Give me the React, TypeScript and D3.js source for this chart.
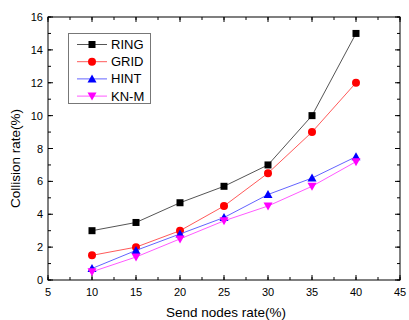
import React from 'react';
import * as d3 from 'd3';

// send nodes rate (%)
const rates = [10, 15, 20, 25, 30, 35, 40];
const ring = [3.0, 3.5, 4.7, 5.7, 7.0, 10.0, 15.0];
const grid = [1.5, 2.0, 3.0, 4.5, 6.5, 9.0, 12.0];
const hint = [0.7, 1.8, 2.8, 3.8, 5.2, 6.2, 7.5];
const knm = [0.5, 1.4, 2.5, 3.6, 4.5, 5.7, 7.2];

const xTicks = [5, 10, 15, 20, 25, 30, 35, 40, 45];
const yTicks = [0, 2, 4, 6, 8, 10, 12, 14, 16];

const series = [
  { name: 'RING', values: ring, color: '#000000', line: '#555555', shape: 'square' },
  { name: 'GRID', values: grid, color: '#ff0000', line: '#ff5a5a', shape: 'circle' },
  { name: 'HINT', values: hint, color: '#0000ff', line: '#6464ff', shape: 'up' },
  { name: 'KN-M', values: knm, color: '#ff00ff', line: '#ff5aff', shape: 'down' },
];

const W = 409;
const H = 320;
const left = 48, right = 400, top = 17, bottom = 280;
const font = '"Liberation Sans", Arial, sans-serif';

function Marker({ shape, x, y, color }: { shape: string; x: number; y: number; color: string }) {
  if (shape === 'square') return <rect x={x - 3.5} y={y - 3.5} width={7} height={7} fill={color} />;
  if (shape === 'circle') return <circle cx={x} cy={y} r={4} fill={color} />;
  if (shape === 'up')
    return <path d={`M${x},${y - 4.5}L${x + 4.5},${y + 3.5}L${x - 4.5},${y + 3.5}Z`} fill={color} />;
  return <path d={`M${x},${y + 4.5}L${x + 4.5},${y - 3.5}L${x - 4.5},${y - 3.5}Z`} fill={color} />;
}

export default function App() {
  const x = d3.scaleLinear().domain([5, 45]).range([left, right]);
  const y = d3.scaleLinear().domain([0, 16]).range([bottom, top]);
  const line = d3.line<number>().x((_, i) => x(rates[i])).y((d) => y(d));

  const xMinor = d3.range(5, 45.01, 2.5);
  const yMinor = d3.range(0, 16.01, 1);

  return (
    <svg width={W} height={H} style={{ position: 'absolute', left: 0, top: 0, background: '#fff' }}>
      {/* minor ticks */}
      {xMinor.map((t) => (
        <g key={'xm' + t} stroke="#000" strokeWidth={1}>
          <line x1={x(t)} x2={x(t)} y1={bottom} y2={bottom - 3} />
          <line x1={x(t)} x2={x(t)} y1={top} y2={top + 3} />
        </g>
      ))}
      {yMinor.map((t) => (
        <g key={'ym' + t} stroke="#000" strokeWidth={1}>
          <line x1={left} x2={left + 3} y1={y(t)} y2={y(t)} />
          <line x1={right} x2={right - 3} y1={y(t)} y2={y(t)} />
        </g>
      ))}
      {/* major ticks + labels */}
      {xTicks.map((t) => (
        <g key={'x' + t}>
          <line x1={x(t)} x2={x(t)} y1={bottom} y2={bottom - 5} stroke="#000" />
          <line x1={x(t)} x2={x(t)} y1={top} y2={top + 5} stroke="#000" />
          <text x={x(t)} y={bottom + 16} textAnchor="middle" fontFamily={font} fontSize={11}>
            {t}
          </text>
        </g>
      ))}
      {yTicks.map((t) => (
        <g key={'y' + t}>
          <line x1={left} x2={left + 5} y1={y(t)} y2={y(t)} stroke="#000" />
          <line x1={right} x2={right - 5} y1={y(t)} y2={y(t)} stroke="#000" />
          <text x={left - 5} y={y(t) + 4} textAnchor="end" fontFamily={font} fontSize={11}>
            {t}
          </text>
        </g>
      ))}
      <rect x={left} y={top} width={right - left} height={bottom - top} fill="none" stroke="#000" strokeWidth={1} />

      {/* series */}
      {series.map((s) => (
        <g key={s.name}>
          <path d={line(s.values) || ''} fill="none" stroke={s.line} strokeWidth={1} />
          {s.values.map((v, i) => (
            <Marker key={i} shape={s.shape} x={x(rates[i])} y={y(v)} color={s.color} />
          ))}
        </g>
      ))}

      {/* legend */}
      <rect x={68.5} y={33.5} width={82} height={70} fill="#fff" stroke="#777" strokeWidth={1} />
      {series.map((s, i) => {
        const ly = 44.5 + i * 17.2;
        return (
          <g key={'lg' + s.name}>
            <line x1={77} x2={107} y1={ly} y2={ly} stroke={s.line} strokeWidth={1} />
            <Marker shape={s.shape} x={92} y={ly} color={s.color} />
            <text x={111} y={ly + 4.5} fontFamily={font} fontSize={13}>
              {s.name}
            </text>
          </g>
        );
      })}

      {/* axis titles */}
      <text x={(left + right) / 2 + 2} y={317} textAnchor="middle" fontFamily={font} fontSize={13.5}>
        Send nodes rate(%)
      </text>
      <text
        transform={`translate(20,${(top + bottom) / 2 + 10}) rotate(-90)`}
        textAnchor="middle"
        fontFamily={font}
        fontSize={13.5}
      >
        Collision rate(%)
      </text>
    </svg>
  );
}
